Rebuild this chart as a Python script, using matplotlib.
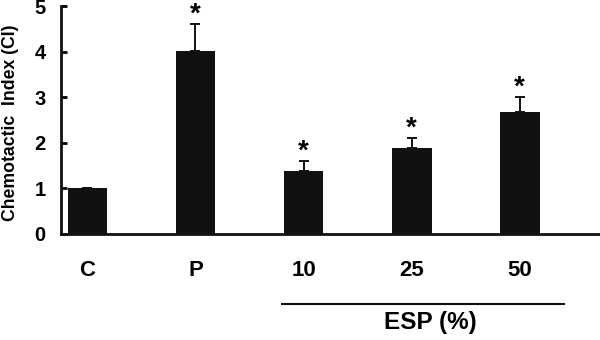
import matplotlib.pyplot as plt
from matplotlib import transforms

plt.rcParams['font.family'] = ['Liberation Sans', 'DejaVu Sans']
plt.rcParams['font.weight'] = 'bold'

# values
groups = ['C', 'P', '10', '25', '50']
ci_mean = [1.0, 4.02, 1.39, 1.89, 2.68]
ci_err = [0.01, 0.58, 0.21, 0.21, 0.32]
signif = [False, True, True, True, True]

fig = plt.figure(figsize=(6, 3.4), dpi=100)
ax = fig.add_axes([0.1017, 0.312, 0.8983, 0.670])

x = range(len(groups))
ax.bar(x, ci_mean, width=0.37, color='#111111', zorder=3)
ax.errorbar(x, ci_mean, yerr=[[0] * len(ci_err), ci_err], fmt='none',
            ecolor='#111111', elinewidth=1.4, capsize=3.5, capthick=1.4, zorder=2)

for i, (m, e, s) in enumerate(zip(ci_mean, ci_err, signif)):
    if s:
        ax.annotate('*', (i, m + e), xytext=(0, -2.5), textcoords='offset points',
                    ha='center', va='bottom', fontsize=20, fontweight='bold',
                    annotation_clip=False)

ax.set_xlim(-0.245, 4.745)
ax.set_ylim(0, 5)
ax.set_yticks([0, 1, 2, 3, 4, 5])
ax.set_xticks(list(x))
ax.set_xticklabels(groups)

for side in ['top', 'right']:
    ax.spines[side].set_visible(False)
for side in ['left', 'bottom']:
    ax.spines[side].set_linewidth(2)
    ax.spines[side].set_color('#111111')

ax.tick_params(axis='y', direction='in', length=4, width=2, pad=11, labelsize=14.5)
ax.tick_params(axis='x', length=0, pad=19, labelsize=16)

fig.text(0.018, 0.64, 'Chemotactic  Index (CI)', rotation=90, ha='center', va='center',
         fontsize=12.7, fontweight='bold')

# bracket line + label for ESP concentrations
trans = transforms.blended_transform_factory(ax.transData, ax.transAxes)
ax.plot([1.80, 4.41], [-0.307, -0.307], color='#111111', lw=1.5,
        transform=trans, clip_on=False)
ax.text(3.17, -0.39, 'ESP (%)', transform=trans, ha='center', va='center',
        fontsize=17.5, fontweight='bold')

fig.savefig('out.png', dpi=100)
